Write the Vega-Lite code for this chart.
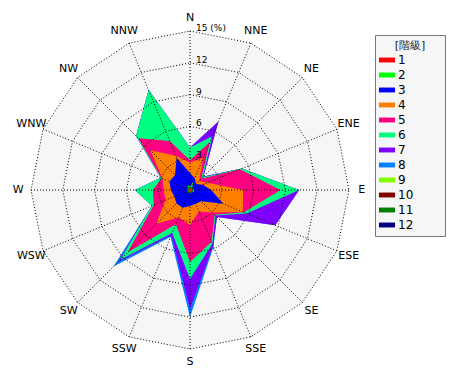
{
"$schema":"https://vega.github.io/schema/vega-lite/v6.json",
"width":318,"height":318,
"autosize":"none",
"padding":{"left":31,"top":31,"right":121,"bottom":31},
"background":"white",
"config":{"view":{"stroke":null},"font":"DejaVu Sans"},
"datasets":{
"dirs":[{"k":0,"label":"N"},{"k":1,"label":"NNE"},{"k":2,"label":"NE"},{"k":3,"label":"ENE"},{"k":4,"label":"E"},{"k":5,"label":"ESE"},{"k":6,"label":"SE"},{"k":7,"label":"SSE"},{"k":8,"label":"S"},{"k":9,"label":"SSW"},{"k":10,"label":"SW"},{"k":11,"label":"WSW"},{"k":12,"label":"W"},{"k":13,"label":"WNW"},{"k":14,"label":"NW"},{"k":15,"label":"NNW"}],
"rings":[{"ring":3,"label":"3","ks":[0,1,2,3,4,5,6,7,8,9,10,11,12,13,14,15]},{"ring":6,"label":"6","ks":[0,1,2,3,4,5,6,7,8,9,10,11,12,13,14,15]},{"ring":9,"label":"9","ks":[0,1,2,3,4,5,6,7,8,9,10,11,12,13,14,15]},{"ring":12,"label":"12","ks":[0,1,2,3,4,5,6,7,8,9,10,11,12,13,14,15]},{"ring":15,"label":"15 (%)","ks":[0,1,2,3,4,5,6,7,8,9,10,11,12,13,14,15]}],
"freq":[
{"c":1,"k":0,"r":0.15},{"c":1,"k":1,"r":0.15},{"c":1,"k":2,"r":0.15},{"c":1,"k":3,"r":0.15},{"c":1,"k":4,"r":0.15},{"c":1,"k":5,"r":0.15},{"c":1,"k":6,"r":0.15},{"c":1,"k":7,"r":0.15},{"c":1,"k":8,"r":0.15},{"c":1,"k":9,"r":0.15},{"c":1,"k":10,"r":0.15},{"c":1,"k":11,"r":0.15},{"c":1,"k":12,"r":0.15},{"c":1,"k":13,"r":0.15},{"c":1,"k":14,"r":0.15},{"c":1,"k":15,"r":0.15},
{"c":2,"k":0,"r":0.3},{"c":2,"k":1,"r":0.9},{"c":2,"k":2,"r":0.3},{"c":2,"k":3,"r":0.3},{"c":2,"k":4,"r":0.4},{"c":2,"k":5,"r":0.4},{"c":2,"k":6,"r":0.3},{"c":2,"k":7,"r":0.3},{"c":2,"k":8,"r":0.3},{"c":2,"k":9,"r":0.3},{"c":2,"k":10,"r":0.3},{"c":2,"k":11,"r":0.3},{"c":2,"k":12,"r":0.3},{"c":2,"k":13,"r":0.3},{"c":2,"k":14,"r":0.3},{"c":2,"k":15,"r":0.5},
{"c":3,"k":0,"r":1.6},{"c":3,"k":1,"r":1.2},{"c":3,"k":2,"r":0.8},{"c":3,"k":3,"r":1.3},{"c":3,"k":4,"r":2.0},{"c":3,"k":5,"r":3.4},{"c":3,"k":6,"r":1.5},{"c":3,"k":7,"r":1.4},{"c":3,"k":8,"r":1.5},{"c":3,"k":9,"r":1.8},{"c":3,"k":10,"r":1.8},{"c":3,"k":11,"r":1.6},{"c":3,"k":12,"r":1.8},{"c":3,"k":13,"r":2.1},{"c":3,"k":14,"r":2.0},{"c":3,"k":15,"r":3.3},
{"c":4,"k":0,"r":2.6},{"c":4,"k":1,"r":3.3},{"c":4,"k":2,"r":1.2},{"c":4,"k":3,"r":1.8},{"c":4,"k":4,"r":5.0},{"c":4,"k":5,"r":5.4},{"c":4,"k":6,"r":3.0},{"c":4,"k":7,"r":2.2},{"c":4,"k":8,"r":3.3},{"c":4,"k":9,"r":2.8},{"c":4,"k":10,"r":4.5},{"c":4,"k":11,"r":2.5},{"c":4,"k":12,"r":2.5},{"c":4,"k":13,"r":2.8},{"c":4,"k":14,"r":5.3},{"c":4,"k":15,"r":3.5},
{"c":5,"k":0,"r":2.8},{"c":5,"k":1,"r":4.9},{"c":5,"k":2,"r":1.5},{"c":5,"k":3,"r":5.1},{"c":5,"k":4,"r":8.55},{"c":5,"k":5,"r":5.5},{"c":5,"k":6,"r":3.3},{"c":5,"k":7,"r":5.3},{"c":5,"k":8,"r":6.8},{"c":5,"k":9,"r":3.5},{"c":5,"k":10,"r":8.3},{"c":5,"k":11,"r":3.7},{"c":5,"k":12,"r":3.5},{"c":5,"k":13,"r":2.9},{"c":5,"k":14,"r":6.9},{"c":5,"k":15,"r":5.0},
{"c":6,"k":0,"r":4.0},{"c":6,"k":1,"r":5.5},{"c":6,"k":2,"r":1.7},{"c":6,"k":3,"r":5.3},{"c":6,"k":4,"r":10.3},{"c":6,"k":5,"r":5.8},{"c":6,"k":6,"r":3.4},{"c":6,"k":7,"r":5.5},{"c":6,"k":8,"r":8.4},{"c":6,"k":9,"r":4.4},{"c":6,"k":10,"r":9.3},{"c":6,"k":11,"r":3.9},{"c":6,"k":12,"r":5.2},{"c":6,"k":13,"r":3.0},{"c":6,"k":14,"r":7.2},{"c":6,"k":15,"r":10.2},
{"c":7,"k":0,"r":4.0},{"c":7,"k":1,"r":7.0},{"c":7,"k":2,"r":1.8},{"c":7,"k":3,"r":5.3},{"c":7,"k":4,"r":10.3},{"c":7,"k":5,"r":8.7},{"c":7,"k":6,"r":3.6},{"c":7,"k":7,"r":5.7},{"c":7,"k":8,"r":11.2},{"c":7,"k":9,"r":4.6},{"c":7,"k":10,"r":9.6},{"c":7,"k":11,"r":3.9},{"c":7,"k":12,"r":5.2},{"c":7,"k":13,"r":3.0},{"c":7,"k":14,"r":7.2},{"c":7,"k":15,"r":10.2},
{"c":8,"k":0,"r":4.0},{"c":8,"k":1,"r":7.0},{"c":8,"k":2,"r":1.8},{"c":8,"k":3,"r":5.3},{"c":8,"k":4,"r":10.3},{"c":8,"k":5,"r":8.7},{"c":8,"k":6,"r":3.6},{"c":8,"k":7,"r":5.8},{"c":8,"k":8,"r":12.0},{"c":8,"k":9,"r":4.8},{"c":8,"k":10,"r":10.2},{"c":8,"k":11,"r":3.9},{"c":8,"k":12,"r":5.2},{"c":8,"k":13,"r":3.0},{"c":8,"k":14,"r":7.2},{"c":8,"k":15,"r":10.2}
]
},
"layer":[
{"data":{"name":"rings"},
 "transform":[{"filter":"datum.ring==15"},{"flatten":["ks"],"as":["k"]},{"calculate":"datum.ring*sin(datum.k*PI/8)","as":"x"},{"calculate":"datum.ring*cos(datum.k*PI/8)","as":"y"}],
 "mark":{"type":"line","interpolate":"linear-closed","fill":"#f6f6f6","strokeWidth":0},
 "encoding":{"x":{"field":"x","type":"quantitative","scale":{"domain":[-15,15]},"axis":null},"y":{"field":"y","type":"quantitative","scale":{"domain":[-15,15]},"axis":null},"order":{"field":"k"}}},
{"data":{"name":"freq"},
 "transform":[{"calculate":"datum.r*sin(datum.k*PI/8)","as":"x"},{"calculate":"datum.r*cos(datum.k*PI/8)","as":"y"}],
 "encoding":{"x":{"field":"x","type":"quantitative","scale":{"domain":[-15,15]},"axis":null},"y":{"field":"y","type":"quantitative","scale":{"domain":[-15,15]},"axis":null},"order":{"field":"k"},
  "fill":{"field":"c","type":"nominal","scale":{"domain":[1,2,3,4,5,6,7,8,9,10,11,12],"range":["#ff0000","#00ff00","#0000ff","#ff8000","#ff0080","#00ff80","#8000ff","#0080ff","#80ff00","#800000","#008000","#000080"]},
   "legend":{"title":"[階級]","orient":"none","legendX":344,"legendY":4,"symbolType":"M-1.15,-0.35H1.15V0.35H-1.15Z","symbolSize":196,"symbolStrokeWidth":0,"strokeColor":"#777","fillColor":"#f6f6f6","padding":5,"titleAnchor":"middle","titleFontWeight":"normal","titleFontSize":11,"titleColor":"#222","labelFontSize":12,"labelColor":"black","rowPadding":2,"titlePadding":2,"labelOffset":4,"labelExpr":"datum.label + '\u2800\u2800\u2800'"}}},
 "layer":[
  {"transform":[{"filter":"datum.c==8"}],"mark":{"type":"line","interpolate":"linear-closed","strokeWidth":0}},
  {"transform":[{"filter":"datum.c==7"}],"mark":{"type":"line","interpolate":"linear-closed","strokeWidth":0}},
  {"transform":[{"filter":"datum.c==6"}],"mark":{"type":"line","interpolate":"linear-closed","strokeWidth":0}},
  {"transform":[{"filter":"datum.c==5"}],"mark":{"type":"line","interpolate":"linear-closed","strokeWidth":0}},
  {"transform":[{"filter":"datum.c==4"}],"mark":{"type":"line","interpolate":"linear-closed","strokeWidth":0}},
  {"transform":[{"filter":"datum.c==3"}],"mark":{"type":"line","interpolate":"linear-closed","strokeWidth":0}},
  {"transform":[{"filter":"datum.c==2"}],"mark":{"type":"line","interpolate":"linear-closed","strokeWidth":0}},
  {"transform":[{"filter":"datum.c==1"}],"mark":{"type":"line","interpolate":"linear-closed","strokeWidth":0}}
 ]},
{"data":{"name":"rings"},
 "transform":[{"flatten":["ks"],"as":["k"]},{"calculate":"datum.ring*sin(datum.k*PI/8)","as":"x"},{"calculate":"datum.ring*cos(datum.k*PI/8)","as":"y"}],
 "mark":{"type":"line","interpolate":"linear-closed","stroke":"black","strokeWidth":1,"strokeDash":[1,2]},
 "encoding":{"x":{"field":"x","type":"quantitative","scale":{"domain":[-15,15]},"axis":null},"y":{"field":"y","type":"quantitative","scale":{"domain":[-15,15]},"axis":null},"order":{"field":"k"},"detail":{"field":"ring"}}},
{"data":{"name":"dirs"},
 "transform":[{"calculate":"15*sin(datum.k*PI/8)","as":"ex"},{"calculate":"15*cos(datum.k*PI/8)","as":"ey"}],
 "mark":{"type":"rule","stroke":"black","strokeWidth":1,"strokeDash":[1,2]},
 "encoding":{"x":{"field":"ex","type":"quantitative","scale":{"domain":[-15,15]},"axis":null},"y":{"field":"ey","type":"quantitative","scale":{"domain":[-15,15]},"axis":null},"x2":{"datum":0},"y2":{"datum":0}}},
{"data":{"name":"dirs"},
 "transform":[{"calculate":"16.2*sin(datum.k*PI/8)","as":"lx"},{"calculate":"16.2*cos(datum.k*PI/8)","as":"ly"}],
 "mark":{"type":"text","fontSize":11,"align":"center","baseline":"middle","color":"black"},
 "encoding":{"x":{"field":"lx","type":"quantitative","scale":{"domain":[-15,15]},"axis":null},"y":{"field":"ly","type":"quantitative","scale":{"domain":[-15,15]},"axis":null},"text":{"field":"label"}}},
{"data":{"name":"rings"},
 "mark":{"type":"text","fontSize":9,"align":"left","baseline":"alphabetic","dx":6,"dy":0,"color":"black"},
 "encoding":{"x":{"datum":0,"type":"quantitative","scale":{"domain":[-15,15]},"axis":null},"y":{"field":"ring","type":"quantitative","scale":{"domain":[-15,15]},"axis":null},"text":{"field":"label"}}}
]
}
